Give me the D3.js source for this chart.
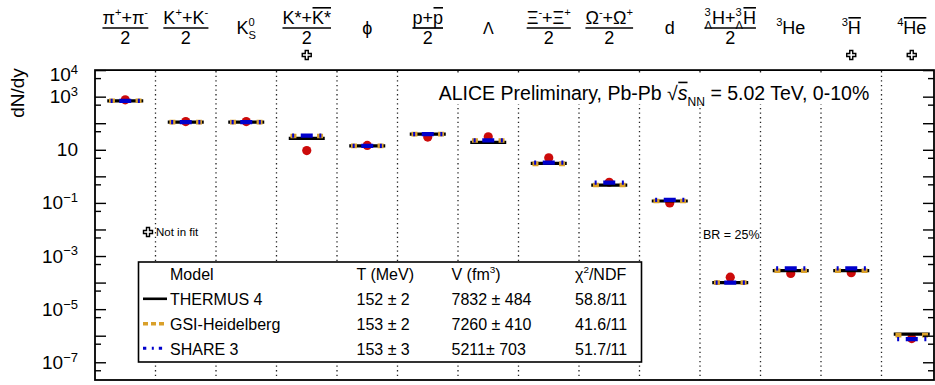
<!DOCTYPE html>
<html>
<head>
<meta charset="utf-8">
<script src="https://cdn.jsdelivr.net/npm/d3@7"></script>
<style>
  body { margin: 0; background: #fff; }
  svg { font-family: "Liberation Sans", Arial, Helvetica, sans-serif; }
</style>
</head>
<body>
<div id="chart"></div>
<script>
let width = 935;
let height = 385;
let margin = { top: 70.1, right: 1, bottom: 5, left: 95 };

// columns of the plot, left to right
const species = ["pi", "K", "K0S", "Kstar", "phi", "p", "Lambda", "Xi", "Omega", "d", "hyperT", "He3", "H3bar", "He4bar"];
// measured yields (red points)
const dataYield = [760, 115, 115, 9.3, 14.6, 30, 31, 5.0, 0.6, 0.10, 1.6e-4, 2.2e-4, 2.35e-4, 7.8e-7];
// model yields
const thermus = [700, 110, 110, 27, 14, 39, 19, 3.1, 0.47, 0.118, 1.0e-4, 2.8e-4, 2.8e-4, 1.15e-6];
const gsi = [700, 110, 110, 33, 14, 39, 22.5, 2.95, 0.47, 0.118, 1.0e-4, 2.8e-4, 2.8e-4, 1.05e-6];
const share = [700, 110, 110, 34, 14, 39, 22.5, 3.3, 0.58, 0.13, 1.0e-4, 3.4e-4, 3.4e-4, 7.5e-7];
const notInFit = ["Kstar", "H3bar", "He4bar"];

// y axis
const yLabelled = [1e4, 1e3, 1e1, 1e-1, 1e-3, 1e-5, 1e-7];
const yDecades = d3.range(4, -8, -1).map(e => Math.pow(10, e));
const yHalves = d3.range(3, -9, -1).map(e => 5 * Math.pow(10, e));

// legend table
const modelNames = ["THERMUS 4", "GSI-Heidelberg", "SHARE 3"];
const modelT = ["152 ± 2", "153 ± 2", "153 ± 3"];
const modelV = ["7832 ± 484", "7260 ± 410", "5211± 703"];
const modelChi2 = ["58.8/11", "41.6/11", "51.7/11"];

// column headers: [text, kind]; kinds: n, sup, sub, ov, ss (stacked sup/sub)
const headers = [
  { frac: true, segs: [["π"], ["+", "sup"], ["+π"], ["-", "sup"]] },
  { frac: true, segs: [["K"], ["+", "sup"], ["+K"], ["-", "sup"]] },
  { frac: false, segs: [["K"], [["0", "S"], "ss"]] },
  { frac: true, segs: [["K*+"], ["K*", "ov"]] },
  { frac: false, segs: [["ϕ"]] },
  { frac: true, segs: [["p+"], ["p", "ov"]] },
  { frac: false, segs: [["Λ"]], size: 16 },
  { frac: true, segs: [["Ξ"], ["-", "sup"], ["+Ξ"], ["+", "sup"]] },
  { frac: true, segs: [["Ω"], ["-", "sup"], ["+Ω"], ["+", "sup"]] },
  { frac: false, segs: [["d"]] },
  { frac: true, segs: [[["3", "Λ"], "ss"], ["H+"], [["3", "Λ"], "ss"], ["H", "ov"]] },
  { frac: false, segs: [["3", "sup"], ["He"]] },
  { frac: false, segs: [["3", "sup"], ["H", "ov"]] },
  { frac: false, segs: [["4", "sup"], ["He", "ov"]] }
];

const colGold = "#d9a02a";
const colBlue = "#0000cc";
const colRed = "#cc0a0a";

let svg = d3.select("#chart").append("svg").attr("width", width).attr("height", height);

let xScale = d3.scaleLinear().domain([0, species.length]).range([margin.left, 942]);
let yScale = d3.scaleLog().domain([1e4, 2.15e-8]).range([margin.top, height - margin.bottom]);
let frameRight = width - margin.right;

// text with sub/superscripts and overlines
function richText(parent, x, y, segs, size, anchor) {
  let t = parent.append("text").attr("x", x).attr("y", y)
    .attr("font-size", size).attr("text-anchor", anchor || "middle").attr("fill", "#000");
  let small = size * 0.62, up = -size * 0.45, down = size * 0.3;
  let cur = 0, idx = 0, pendingDx = 0;
  let overs = [];
  function span(str, fs, off, italic) {
    let s = t.append("tspan").text(str).attr("font-size", fs).attr("dy", off - cur);
    if (italic) s.attr("font-style", "italic");
    if (pendingDx) { s.attr("dx", pendingDx); pendingDx = 0; }
    cur = off;
    idx += str.length;
    return s;
  }
  segs.forEach(function (sg) {
    let str = sg[0], kind = sg[1] || "n", italic = sg[2];
    if (kind === "ss") {
      let a = span(str[0], small, up);
      let wa = a.node().getComputedTextLength();
      pendingDx = -wa;
      let b = span(str[1], small, down);
      let wb = b.node().getComputedTextLength();
      pendingDx = Math.max(0, wa - wb);
    } else if (kind === "sup") {
      span(str, small, up);
    } else if (kind === "sub") {
      span(str, small, down);
    } else {
      let start = idx;
      span(str, size, 0, italic);
      if (kind === "ov") overs.push([start, idx - 1]);
    }
  });
  let n = t.node();
  overs.forEach(function (o) {
    let x0 = n.getStartPositionOfChar(o[0]).x;
    let x1 = n.getEndPositionOfChar(o[1]).x;
    parent.append("line")
      .attr("x1", x0 + 0.5).attr("x2", x1)
      .attr("y1", y - size * 0.9).attr("y2", y - size * 0.9)
      .attr("stroke", "#000").attr("stroke-width", 1.6);
  });
  return t;
}

// dotted column dividers
svg.selectAll(".divider")
  .data(d3.range(1, species.length))
  .enter()
  .append("line")
  .attr("class", "divider")
  .attr("x1", d => xScale(d)).attr("x2", d => xScale(d))
  .attr("y1", margin.top + 1).attr("y2", height - margin.bottom)
  .attr("stroke", "#222").attr("stroke-width", 1.3)
  .attr("stroke-dasharray", "1.3,3.3");

// column headers
let headG = svg.append("g").attr("class", "headers");
headers.forEach(function (h, i) {
  let cx = xScale(i + 0.5);
  if (h.frac) {
    let num = richText(headG, cx, 24, h.segs, 18);
    let bb = num.node().getBBox();
    headG.append("line")
      .attr("x1", bb.x).attr("x2", bb.x + bb.width)
      .attr("y1", 28).attr("y2", 28)
      .attr("stroke", "#000").attr("stroke-width", 1.7);
    headG.append("text").attr("x", cx).attr("y", 43.5)
      .attr("text-anchor", "middle").attr("font-size", 18).text("2");
  } else {
    richText(headG, cx, 34, h.segs, h.size || 18);
  }
});

// "not in fit" crosses
let crossPath = d3.symbol(d3.symbolCross, 45)();
svg.selectAll(".nif")
  .data(notInFit)
  .enter()
  .append("path")
  .attr("class", "nif")
  .attr("d", crossPath)
  .attr("transform", d => `translate(${xScale(species.indexOf(d) + 0.5)},55)`)
  .attr("fill", "#fff").attr("stroke", "#000").attr("stroke-width", 1.4);

// system label with white background
svg.append("rect").attr("x", 428).attr("y", 73).attr("width", 450).attr("height", 31).attr("fill", "#fff");
richText(svg, 654, 100, [["ALICE Preliminary, Pb-Pb "], ["√"], ["s", "ov", true], ["NN", "sub"], [" = 5.02 TeV, 0-10%"]], 19.5);

// measured points
let cols = species.map((s, i) => ({ s: s, i: i, data: dataYield[i], th: thermus[i], gsi: gsi[i], sh: share[i] }));

svg.selectAll(".point")
  .data(cols)
  .enter()
  .append("circle")
  .attr("class", "point")
  .attr("cx", d => xScale(d.i + 0.5))
  .attr("cy", d => yScale(d.data))
  .attr("r", 4.6)
  .attr("fill", colRed);

// THERMUS: solid black
svg.selectAll(".thermus")
  .data(cols)
  .enter()
  .append("line")
  .attr("class", "thermus")
  .attr("x1", d => xScale(d.i + 0.5) - 18).attr("x2", d => xScale(d.i + 0.5) + 18)
  .attr("y1", d => yScale(d.th)).attr("y2", d => yScale(d.th))
  .attr("stroke", "#000").attr("stroke-width", 3.2);

// GSI: dashed gold
svg.selectAll(".gsi")
  .data(cols)
  .enter()
  .append("line")
  .attr("class", "gsi")
  .attr("x1", d => xScale(d.i + 0.5) - 16.3).attr("x2", d => xScale(d.i + 0.5) + 16.3)
  .attr("y1", d => yScale(d.gsi)).attr("y2", d => yScale(d.gsi))
  .attr("stroke", colGold).attr("stroke-width", 4.6)
  .attr("stroke-dasharray", "6,20.6,6");

// SHARE: dotted blue
svg.selectAll(".share")
  .data(cols)
  .enter()
  .append("line")
  .attr("class", "share")
  .attr("x1", d => xScale(d.i + 0.5) - 14.6).attr("x2", d => xScale(d.i + 0.5) + 14.6)
  .attr("y1", d => yScale(d.sh)).attr("y2", d => yScale(d.sh))
  .attr("stroke", colBlue).attr("stroke-width", 4.2)
  .attr("stroke-dasharray", "2,6.6,12,6.6,2");

// annotations
let nif = svg.append("g");
nif.append("path").attr("d", crossPath).attr("transform", "translate(148,232)")
  .attr("fill", "#fff").attr("stroke", "#000").attr("stroke-width", 1.4);
nif.append("text").attr("x", 156).attr("y", 236).attr("font-size", 11.5).text("Not in fit");
svg.append("text").attr("x", 703).attr("y", 238.5).attr("font-size", 12.5).text("BR = 25%");

// legend box
let leg = svg.append("g");
leg.append("rect").attr("x", 138.5).attr("y", 262).attr("width", 503).attr("height", 100)
  .attr("fill", "#fff").attr("stroke", "#000").attr("stroke-width", 1.6);
let rowY = [280, 305, 330, 354.5];
leg.append("text").attr("x", 170).attr("y", rowY[0]).attr("font-size", 16).text("Model");
leg.append("text").attr("x", 356.5).attr("y", rowY[0]).attr("font-size", 16).text("T (MeV)");
richText(leg, 451.5, rowY[0], [["V (fm"], ["3", "sup"], [")"]], 16, "start");
richText(leg, 575, rowY[0], [["χ"], ["2", "sup"], ["/NDF"]], 16, "start");

let lineStyles = [
  { stroke: "#000", dash: null, w: 2.6 },
  { stroke: colGold, dash: "5,3", w: 3.4 },
  { stroke: colBlue, dash: "3.3,5.5,2,5", w: 3 }
];
modelNames.forEach(function (m, i) {
  let by = rowY[i + 1];
  let st = lineStyles[i];
  leg.append("line").attr("x1", 143).attr("x2", 167)
    .attr("y1", by - 6.2).attr("y2", by - 6.2)
    .attr("stroke", st.stroke).attr("stroke-width", st.w)
    .attr("stroke-dasharray", st.dash);
  leg.append("text").attr("x", 170).attr("y", by).attr("font-size", 16).text(m);
  leg.append("text").attr("x", 356.5).attr("y", by).attr("font-size", 16).text(modelT[i]);
  leg.append("text").attr("x", 451.5).attr("y", by).attr("font-size", 16).text(modelV[i]);
  leg.append("text").attr("x", 575).attr("y", by).attr("font-size", 16).text(modelChi2[i]);
});

// axes
let yAxisMajor = d3.axisLeft(yScale).tickValues(yDecades).tickSizeInner(-11).tickSizeOuter(0)
  .tickPadding(17).tickFormat(() => "");
let yAxisMinor = d3.axisLeft(yScale).tickValues(yHalves).tickSizeInner(-6).tickSizeOuter(0).tickFormat(() => "");

let gy = svg.append("g").attr("class", "y axis")
  .attr("transform", "translate(" + margin.left + ",0)")
  .call(yAxisMajor);
svg.append("g").attr("transform", "translate(" + margin.left + ",0)").call(yAxisMinor);

gy.selectAll(".tick text")
  .attr("font-size", 19)
  .attr("font-family", "Liberation Sans, Arial, sans-serif")
  .attr("fill", "#000")
  .each(function (d) {
    if (!yLabelled.some(v => Math.abs(v - d) / v < 1e-6)) return;
    let e = Math.round(Math.log10(d));
    let t = d3.select(this);
    t.text("10");
    if (e === 4) t.attr("dy", "0.55em");
    if (e !== 1) {
      t.append("tspan").attr("font-size", 13).attr("dy", "-0.55em")
        .text(e < 0 ? "−" + (-e) : String(e));
    }
  });

let yAxisRight = d3.axisRight(yScale).tickValues(yDecades).tickSizeInner(-11).tickSizeOuter(0).tickFormat(() => "");
let yAxisRightMinor = d3.axisRight(yScale).tickValues(yHalves).tickSizeInner(-6).tickSizeOuter(0).tickFormat(() => "");
svg.append("g").attr("transform", "translate(" + frameRight + ",0)").call(yAxisRight);
svg.append("g").attr("transform", "translate(" + frameRight + ",0)").call(yAxisRightMinor);

svg.selectAll(".domain").remove();
svg.selectAll(".tick line").attr("stroke", "#000").attr("stroke-width", 1.4);

// frame
svg.append("rect")
  .attr("x", margin.left).attr("y", margin.top)
  .attr("width", frameRight - margin.left).attr("height", height - margin.bottom - margin.top)
  .attr("fill", "none").attr("stroke", "#000").attr("stroke-width", 1.8);

// y title
svg.append("text")
  .attr("transform", "translate(24,93) rotate(-90)")
  .attr("text-anchor", "middle").attr("font-size", 19)
  .text("dN/dy");
</script>
</body>
</html>
